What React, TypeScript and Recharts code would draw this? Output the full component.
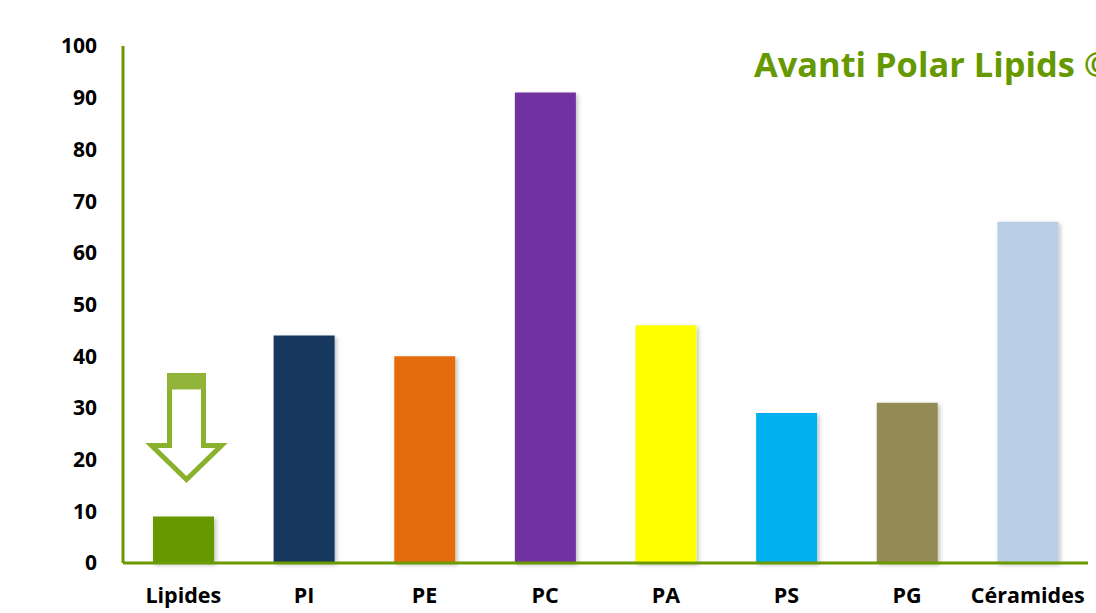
import React from "react";
import { BarChart, Bar, XAxis, YAxis, Cell, LabelList } from "recharts";

const categories = ["Lipides", "PI", "PE", "PC", "PA", "PS", "PG", "Céramides"];
const values = [9, 44, 40, 91, 46, 29, 31, 66];
const colors = ["#669900", "#17375E", "#E46C0A", "#7030A0", "#FFFF00", "#00B0F0", "#948A54", "#B9CDE5"];
const yTicks = [0, 10, 20, 30, 40, 50, 60, 70, 80, 90, 100];
const titleText = "Avanti Polar Lipids ©";

const data = categories.map((name, i) => ({ name, value: values[i] }));

const FONT = "'Open Sans', 'Noto Sans', sans-serif";

const ArrowLabel = (props: any) => {
  const { x, y, width, index } = props;
  if (index !== 0) return null;
  const cx = x + width / 2 + 3;
  const top = y - 141;
  const capBot = y - 127;
  const headTop = y - 71;
  const tip = y - 37;
  const sw = 17;
  const hw = 35;
  const path = `M${cx - sw},${top} L${cx + sw},${top} L${cx + sw},${headTop} L${cx + hw},${headTop} L${cx},${tip} L${cx - hw},${headTop} L${cx - sw},${headTop} Z`;
  return (
    <g>
      <path d={path} fill="#FFFFFF" stroke="#8AB12E" strokeWidth={5} strokeLinejoin="miter" />
      <rect x={cx - sw - 2} y={top - 2} width={2 * sw + 4} height={capBot - top + 2} fill="#93B43A" />
    </g>
  );
};

export default function App() {
  return (
    <div style={{ position: "absolute", left: 0, top: 0, width: 1096, height: 613, background: "#fff", overflow: "hidden" }}>
      <BarChart
        width={1096}
        height={613}
        data={data}
        margin={{ top: 46, right: 8, bottom: 0, left: 0 }}
        barSize={61}
      >
        <defs>
          <filter id="shadow" x="-20%" y="-20%" width="140%" height="140%">
            <feDropShadow dx="2" dy="2" stdDeviation="2" floodColor="#000" floodOpacity="0.25" />
          </filter>
        </defs>
        <YAxis
          width={123}
          domain={[0, 100]}
          ticks={yTicks}
          interval={0}
          tickLine={false}
          tickSize={0}
          tickMargin={26}
          axisLine={{ stroke: "#6A9A00", strokeWidth: 3 }}
          tick={{ fill: "#000", fontSize: 21, fontWeight: 700, fontFamily: FONT }}
        />
        <XAxis
          dataKey="name"
          height={50}
          interval={0}
          tickLine={false}
          tickSize={0}
          tickMargin={25}
          axisLine={{ stroke: "#6A9A00", strokeWidth: 3 }}
          tick={{ fill: "#000", fontSize: 21.5, fontWeight: 700, fontFamily: FONT }}
        />
        <Bar dataKey="value" isAnimationActive={false} filter="url(#shadow)">
          {data.map((d, i) => (
            <Cell key={d.name} fill={colors[i]} />
          ))}
          <LabelList dataKey="value" content={ArrowLabel} />
        </Bar>
      </BarChart>
      <div
        style={{
          position: "absolute",
          left: 754,
          top: 41,
          fontFamily: FONT,
          fontWeight: 700,
          fontSize: 34.4,
          color: "#669900",
          whiteSpace: "nowrap",
          lineHeight: "46px",
        }}
      >
        {titleText}
      </div>
    </div>
  );
}
